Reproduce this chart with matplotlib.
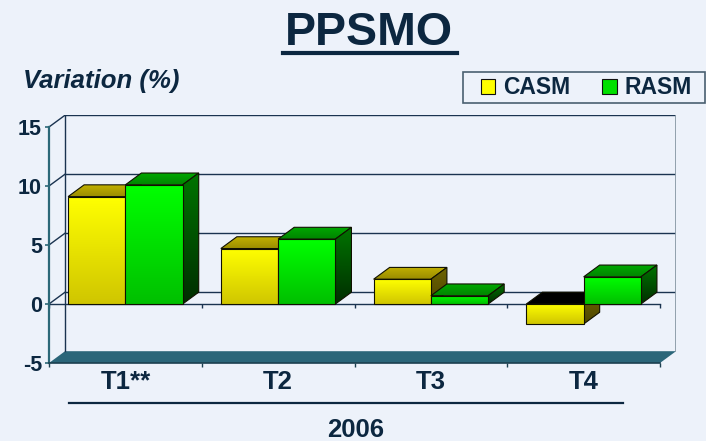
import numpy as np
import matplotlib
matplotlib.use('Agg')
import matplotlib.pyplot as plt
from matplotlib.patches import Polygon, Patch, Rectangle
from matplotlib.colors import LinearSegmentedColormap
from matplotlib.lines import Line2D

plt.rcParams.update({
    'font.family': ['Liberation Sans', 'DejaVu Sans'],
    'font.weight': 'bold',
    'axes.unicode_minus': False,
})

# ---- data ------------------------------------------------------------------
quarters = ['T1**', 'T2', 'T3', 'T4']
casm = [9.1, 4.7, 2.1, -1.7]
rasm = [10.1, 5.5, 0.7, 2.3]
y_ticks = [-5, 0, 5, 10, 15]
year = '2006'

_BG = '#edf2fa'
_NAVY = '#0c2740'
_TEAL = '#2c6878'
_GRID = '#1a3350'

DX, DY = 0.105, 1.0      # 3D depth offset (data units)
BAR_W = 0.375
EDGE = '#111100'

fig = plt.figure(figsize=(7.06, 4.41), dpi=100, facecolor=_BG)
W, H = 706, 441
ax = fig.add_axes([49 / W, 1 - 363 / H, (4 + DX) * 152.75 / W, (20 + DY) * 11.8 / H])
ax.set_facecolor('none')

_z = [3.0]


def grad_face(verts, c_top, c_bot, edge=EDGE):
    """Polygon filled with a vertical gradient (top -> bottom)."""
    z = _z[0]
    _z[0] += 1
    poly = Polygon(verts, closed=True, facecolor='none', edgecolor=edge,
                   lw=0.8, zorder=z + 0.5)
    ax.add_patch(poly)
    xs = [v[0] for v in verts]
    ys = [v[1] for v in verts]
    cmap = LinearSegmentedColormap.from_list('g', [c_bot, c_top])
    im = ax.imshow(np.linspace(0, 1, 64).reshape(-1, 1), cmap=cmap,
                   extent=(min(xs), max(xs), min(ys), max(ys)),
                   origin='lower', aspect='auto', interpolation='bilinear',
                   zorder=z)
    im.set_clip_path(poly)


def bar3d(x0, v, front, top, side):
    y0, y1 = min(0, v), max(0, v)
    x1 = x0 + BAR_W
    top_col = top if v >= 0 else ('#000000', '#000000')
    grad_face([(x0, y1), (x1, y1), (x1 + DX, y1 + DY), (x0 + DX, y1 + DY)], *top_col)
    grad_face([(x1, y0), (x1 + DX, y0 + DY), (x1 + DX, y1 + DY), (x1, y1)], *side)
    grad_face([(x0, y0), (x1, y0), (x1, y1), (x0, y1)], *front)


# floor
ax.add_patch(Polygon([(0, -5), (4, -5), (4 + DX, -5 + DY), (DX, -5 + DY)],
                     closed=True, facecolor='#2b6679', edgecolor='none', zorder=1))

# back wall grid and walls
for v in y_ticks[1:]:
    ax.plot([DX, 4 + DX], [v + DY, v + DY], color=_GRID, lw=1, zorder=1.5)
    ax.plot([0, DX], [v, v + DY], color=_GRID, lw=1, zorder=1.5)
ax.plot([DX, DX], [-5 + DY, 15 + DY], color=_GRID, lw=1, zorder=1.5)
ax.plot([4 + DX, 4 + DX], [-5 + DY, 15 + DY], color='#8a9aa6', lw=1.3, zorder=1.5)

# front zero line with category ticks
ax.plot([0, 4], [0, 0], color=_GRID, lw=1, zorder=2)
ax.vlines(np.arange(len(quarters) + 1), -0.35, 0, color=_GRID, lw=1, zorder=2)

# bars
for i in range(len(quarters)):
    bar3d(i + 0.125, casm[i],
          ('#ffff00', '#d0c600'), ('#c0b000', '#9a8c00'), ('#6e6400', '#4e4600'))
    bar3d(i + 0.5, rasm[i],
          ('#00ff00', '#00c000'), ('#00a800', '#008400'), ('#007400', '#002e00'))

ax.set_xlim(0, 4 + DX)
ax.set_ylim(-5, 15 + DY)

for s in ['top', 'right']:
    ax.spines[s].set_visible(False)
ax.spines['left'].set_bounds(-5, 15)
ax.spines['left'].set_color(_TEAL)
ax.spines['left'].set_linewidth(1.6)
ax.spines['left'].set_zorder(2.5)
ax.spines['bottom'].set_bounds(0, 4)
ax.spines['bottom'].set_color('#1c4050')
ax.spines['bottom'].set_linewidth(1.2)

ax.set_yticks(y_ticks)
ax.set_yticklabels([str(t) for t in y_ticks])
ax.tick_params(axis='y', length=3, width=1.2, color=_TEAL, pad=2,
               labelsize=15.5, labelcolor=_NAVY)
ax.set_xticks(np.arange(len(quarters) + 1))
ax.set_xticklabels([])
ax.tick_params(axis='x', which='major', length=3, width=1, color='#1c4050')
ax.set_xticks(np.arange(len(quarters)) + 0.5, minor=True)
ax.set_xticklabels(quarters, minor=True)
ax.tick_params(axis='x', which='minor', length=0, pad=5,
               labelsize=18.5, labelcolor=_NAVY)

# titles and annotations
fig.text(369 / W, 1 - 45 / H, 'PPSMO', ha='center', va='baseline',
         fontsize=33.5, fontweight='bold', color=_NAVY)
fig.add_artist(Line2D([283 / W, 457 / W], [1 - 53 / H] * 2, color=_NAVY, lw=3))
fig.text(23 / W, 1 - 88 / H, 'Variation (%)', ha='left', va='baseline',
         fontsize=18.5, fontweight='bold', style='italic', color=_NAVY)
fig.add_artist(Line2D([69 / W, 623 / W], [1 - 403 / H] * 2, color=_NAVY, lw=1.6))
fig.text(356 / W, 1 - 437 / H, year, ha='center', va='baseline',
         fontsize=18.5, fontweight='bold', color=_NAVY)

# legend: framed box drawn separately, entries placed inside it
fig.add_artist(Rectangle((463 / W, 1 - 103 / H), 242 / W, 31 / H,
                         transform=fig.transFigure, facecolor=_BG,
                         edgecolor='#4a6070', lw=1.2, zorder=5))
handles = [Patch(facecolor='#ffff00', edgecolor='#111111', lw=0.8, label='CASM'),
           Patch(facecolor='#00e000', edgecolor='#111111', lw=0.8, label='RASM')]
leg = fig.legend(handles=handles, loc='center left', ncol=2,
                 bbox_to_anchor=(481 / W, 1 - 88 / H), frameon=False,
                 prop={'size': 16.5, 'weight': 'bold'}, handlelength=0.62,
                 handleheight=0.62, handletextpad=0.35, columnspacing=1.4,
                 borderpad=0, borderaxespad=0)
leg.set_zorder(6)
for t in leg.get_texts():
    t.set_color(_NAVY)

fig.savefig('out.png', dpi=100, facecolor=_BG)
